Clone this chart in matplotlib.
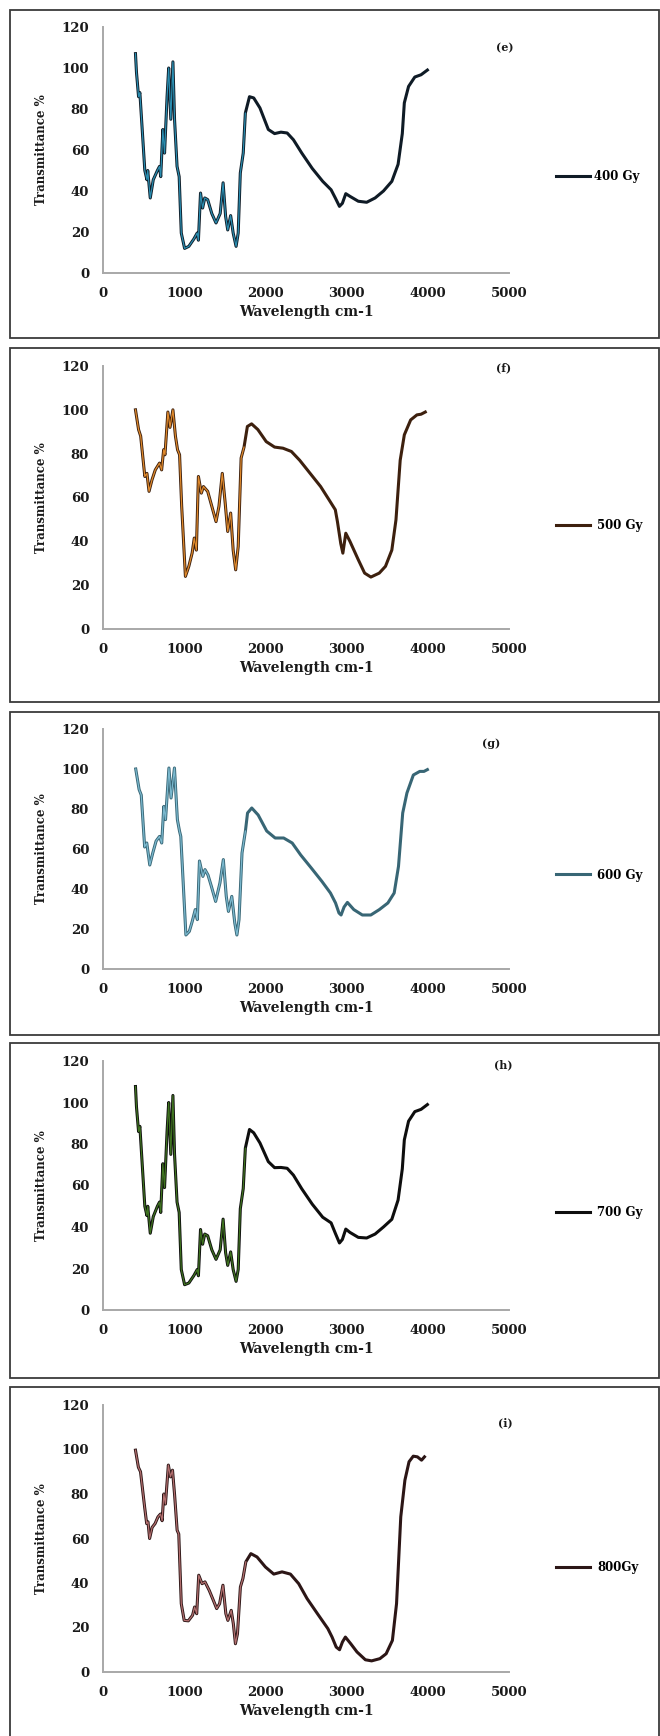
import matplotlib.pyplot as plt
from matplotlib.patches import Rectangle

# ---- data (wavenumber cm-1, transmittance %) ----
wn_400 = [400, 412, 438, 454, 515, 541, 551, 582, 619, 670, 696, 711, 737, 758, 789, 809, 835,
          861, 881, 912, 938, 964, 1005, 1057, 1119, 1160, 1175, 1201, 1227, 1253, 1289, 1340,
          1392, 1443, 1479, 1510, 1536, 1572, 1603, 1639, 1665, 1691, 1727, 1753, 1804, 1856,
          1933, 2036, 2113, 2191, 2268, 2345, 2448, 2577, 2706, 2809, 2861, 2912, 2948, 2990,
          3041, 3144, 3247, 3351, 3454, 3557, 3634, 3686, 3711, 3763, 3840, 3917, 3995]
t_400 = [107, 98, 86, 88, 50, 45.5, 50, 36.6, 45.5, 50, 52, 47, 70, 58.5, 86, 100, 75,
         103, 75, 52, 47, 19.5, 12, 13, 16.6, 19.5, 16, 39, 31.7, 36.6, 35.8, 29,
         24.4, 29, 44, 27.6, 21, 28, 19.5, 13, 19.5, 48.8, 58.5, 78, 86, 85.4,
         80.5, 70, 68, 68.7, 68.3, 65, 58.5, 51, 44.7, 40.6, 36.6, 32.5, 34, 38.7,
         37.4, 35, 34.5, 36.6, 40, 44.7, 53, 68, 83, 91, 95.6, 96.7, 99]

wn_500 = [400, 438, 464, 515, 541, 567, 603, 644, 696, 722, 747, 763, 799, 825, 861, 892, 918,
          943, 969, 1015, 1057, 1098, 1124, 1150, 1175, 1211, 1237, 1289, 1340, 1392, 1428,
          1469, 1505, 1536, 1572, 1603, 1634, 1665, 1701, 1737, 1778, 1830, 1907, 2010, 2113,
          2216, 2320, 2422, 2551, 2680, 2783, 2861, 2887, 2928, 2954, 2990, 3041, 3144, 3222,
          3299, 3402, 3479, 3557, 3608, 3660, 3711, 3789, 3866, 3917, 3969]
t_500 = [100, 91, 88, 69.6, 71, 62.8, 68, 72.6, 75.7, 72.6, 81.8, 79.5, 99, 92, 100, 88, 81.8,
         79.5, 56, 24, 28.6, 34.7, 41.5, 36, 69.6, 62, 65, 62.8, 56, 49, 56,
         71, 57.4, 44.5, 52.9, 36, 27, 37.6, 78, 83, 92.4, 93.6, 91, 85.5, 83,
         82.5, 81, 77, 71, 65, 59, 54.4, 49, 39, 34.6, 43.7, 40, 31.6, 25.5,
         23.7, 25.5, 28.6, 36, 49.8, 77, 88.6, 95.4, 97.7, 98, 99]

wn_600 = [403, 445, 471, 513, 539, 576, 613, 654, 696, 723, 749, 770, 812, 838, 880, 916, 942,
          958, 1021, 1063, 1099, 1136, 1162, 1188, 1230, 1256, 1293, 1335, 1387, 1440, 1482,
          1518, 1545, 1586, 1623, 1649, 1675, 1712, 1754, 1780, 1832, 1911, 2016, 2120, 2225,
          2330, 2435, 2565, 2696, 2801, 2864, 2906, 2932, 2969, 3010, 3089, 3194, 3298, 3403,
          3508, 3586, 3639, 3691, 3743, 3822, 3901, 3953, 3995]
t_600 = [100, 89.7, 87, 61, 63, 52, 58, 64, 66.3, 63, 81.3, 74.7, 100.5, 85.5, 100.5, 74.7, 69,
         66.3, 17, 18.8, 23.8, 29.7, 24.7, 54, 46.3, 49.7, 47, 41.3, 33.8, 43, 54.7,
         36.3, 28.8, 36.3, 23, 17, 24.7, 58, 69, 78, 80.5, 77, 69, 65.5, 65.5,
         63, 57, 50.5, 43.8, 38, 33, 28, 27, 31, 33.3, 29.7, 27, 27, 29.7,
         33, 38, 51.3, 78, 88, 97, 98.8, 98.8, 99.7]

wn_700 = [400, 412, 438, 454, 515, 541, 551, 582, 619, 670, 696, 711, 737, 758, 789, 809, 835,
          861, 881, 912, 938, 964, 1005, 1057, 1119, 1160, 1175, 1201, 1227, 1253, 1289, 1340,
          1392, 1443, 1479, 1510, 1536, 1572, 1603, 1639, 1665, 1691, 1727, 1753, 1804, 1856,
          1933, 2036, 2113, 2191, 2268, 2345, 2448, 2577, 2706, 2809, 2861, 2912, 2948, 2990,
          3041, 3144, 3247, 3351, 3454, 3557, 3634, 3686, 3711, 3763, 3840, 3917, 3995]
t_700 = [107.7, 98, 86, 88.5, 50, 45.5, 50, 37, 45, 50, 52, 47, 70.5, 59, 86, 100, 75,
         103.4, 75, 52, 47, 19.5, 12.2, 13, 16.6, 19.5, 16.5, 38.8, 31.7, 36.6, 35.8, 29,
         24.4, 29, 43.8, 27.6, 21.5, 28, 19.5, 13.8, 19.5, 48.8, 58.5, 78, 87, 85.4,
         80.5, 71.5, 68.6, 68.7, 68.3, 65, 58.4, 51, 44.7, 42, 37, 32.3, 34, 39,
         37.4, 35, 34.7, 36.6, 40, 43.7, 53, 68, 82, 91, 95.6, 96.7, 99]

wn_800 = [400, 436, 462, 513, 538, 554, 574, 605, 641, 677, 708, 728, 749, 769, 805, 831, 856,
          882, 913, 933, 964, 1000, 1051, 1103, 1128, 1154, 1179, 1220, 1256, 1308, 1359, 1400,
          1436, 1477, 1513, 1538, 1579, 1605, 1631, 1656, 1692, 1723, 1759, 1821, 1897, 2000,
          2103, 2205, 2308, 2410, 2513, 2641, 2769, 2821, 2872, 2913, 2949, 2985, 3051, 3128,
          3231, 3308, 3410, 3487, 3564, 3615, 3667, 3718, 3769, 3821, 3872, 3923, 3959]
t_800 = [99.7, 92, 90, 74, 66.7, 67.5, 60, 65, 66.7, 69.7, 71, 68, 80, 75.5, 93, 87.7, 90.7,
         79.5, 63.7, 62, 30.7, 23.2, 23, 25.5, 29.2, 26.2, 43.5, 39.7, 40.5, 36.7, 32.2, 28.5,
         30.7, 39, 26.2, 23.2, 27.7, 21.7, 12.7, 17.2, 38.2, 42, 49.5, 53.2, 51.7, 47.2,
         44, 45, 44, 39.7, 33, 26.2, 19.5, 15.7, 11.2, 10, 13.5, 15.7, 12.7, 9,
         5.5, 5, 6, 8.2, 14.2, 30.7, 69.7, 86.2, 94.5, 97, 96.7, 95.2, 96.7]

labels = ["400 Gy", "500 Gy", "600 Gy", "700 Gy", "800Gy"]
tags = ["(e)", "(f)", "(g)", "(h)", "(i)"]
x_ticks = [0, 1000, 2000, 3000, 4000, 5000]
y_ticks = [0, 20, 40, 60, 80, 100, 120]

series = [(wn_400, t_400), (wn_500, t_500), (wn_600, t_600), (wn_700, t_700), (wn_800, t_800)]

# line colours: dark outline + lighter core seen in the fingerprint region
outer = ["#0f1b26", "#3d200e", "#386675", "#0e0e0e", "#2c1616"]
inner = ["#2a8db0", "#e08a2c", "#7bb9cf", "#3f7320", "#b36f6f"]

# layout in pixels of the 660x1736 image
W, H = 660, 1736
boxes = [(10, 338), (348, 702), (712, 1035), (1043, 1378), (1387, 1742)]
ax_rows = [(27, 273), (366, 629), (729, 969), (1061, 1310), (1405, 1672)]
tag_pos = [(110, 4950), (119, 4930), (113, 4780), (118, 4930), (112, 4960)]
ax_left, ax_right = 103, 509

serif = "DejaVu Serif"

fig = plt.figure(figsize=(6.6, 17.36), dpi=100)

for i, (wn, tr) in enumerate(series):
    # panel frame
    top, bot = boxes[i]
    fig.patches.append(Rectangle((10.5 / W, 1 - bot / H), (658.5 - 10.5) / W, (bot - top) / H,
                                 transform=fig.transFigure, fill=False,
                                 edgecolor="#3a3a3a", linewidth=1.3))

    y_top, y_bot = ax_rows[i]
    ax = fig.add_axes([ax_left / W, 1 - y_bot / H, (ax_right - ax_left) / W, (y_bot - y_top) / H])

    ax.plot(wn, tr, color=outer[i], linewidth=2.2, solid_joinstyle="round", label=labels[i])
    n = sum(1 for v in wn if v <= 1760)
    ax.plot(wn[:n], tr[:n], color=inner[i], linewidth=0.9, solid_joinstyle="round")

    ax.set_xlim(0, 5000)
    ax.set_ylim(0, 120)
    ax.set_xticks(x_ticks)
    ax.set_yticks(y_ticks)
    ax.tick_params(length=0, labelsize=9.5, colors="#1a1a1a", pad=10)
    for lab in ax.get_xticklabels() + ax.get_yticklabels():
        lab.set_fontfamily(serif)
        lab.set_fontweight("bold")
    for s in ["top", "right"]:
        ax.spines[s].set_visible(False)
    for s in ["left", "bottom"]:
        ax.spines[s].set_color("#a8a8a8")
        ax.spines[s].set_linewidth(1.4)
    ax.patch.set_alpha(0)

    ax.set_xlabel("Wavelength cm-1", fontsize=10, fontweight="bold", family=serif,
                  color="#1a1a1a", labelpad=4)
    ax.set_ylabel("Transmittance %", fontsize=8.5, fontweight="bold", family=serif,
                  color="#1a1a1a", labelpad=10)

    ty, tx = tag_pos[i]
    ax.text(tx, ty, tags[i], fontsize=8, fontweight="bold", family=serif,
            ha="center", va="center", color="#1a1a1a")

    ax.legend(loc="center left", bbox_to_anchor=((556 - ax_left) / (ax_right - ax_left), 47 / 120),
              frameon=False, borderpad=0, borderaxespad=0, handlelength=2.9,
              handletextpad=0.3 if i == 0 else 0.6,
              prop={"family": serif, "weight": "bold", "size": 8.5})

fig.savefig("out.png", dpi=100, facecolor="white")
